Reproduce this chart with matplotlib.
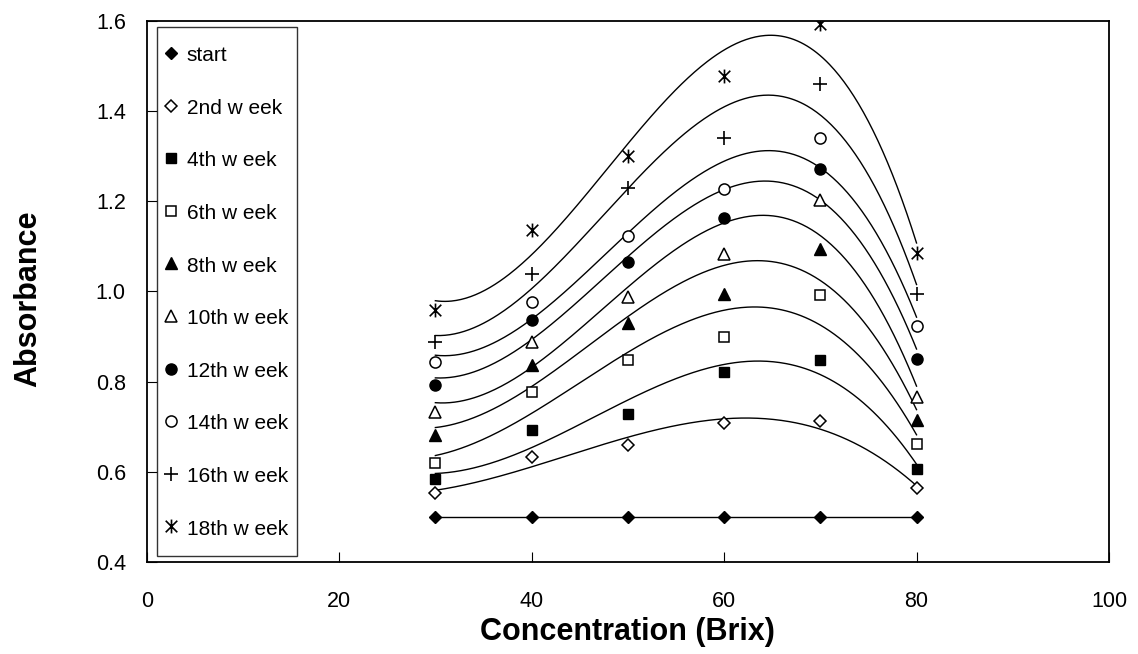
import numpy as np
import matplotlib
matplotlib.use("Agg")
import matplotlib.pyplot as plt
from matplotlib.lines import Line2D
from matplotlib.path import Path
from matplotlib.legend_handler import HandlerLine2D

plt.rcParams['font.family'] = ['Liberation Sans', 'DejaVu Sans']

# ---- data ----
conc = [30, 40, 50, 60, 70, 80]
series_labels = ["start", "2nd w eek", "4th w eek", "6th w eek", "8th w eek",
                 "10th w eek", "12th w eek", "14th w eek", "16th w eek", "18th w eek"]
start = [0.50, 0.50, 0.50, 0.50, 0.50, 0.50]
week2 = [0.552, 0.633, 0.659, 0.709, 0.712, 0.563]
week4 = [0.584, 0.692, 0.729, 0.822, 0.847, 0.606]
week6 = [0.619, 0.777, 0.847, 0.900, 0.993, 0.661]
week8 = [0.681, 0.836, 0.929, 0.995, 1.095, 0.716]
week10 = [0.733, 0.888, 0.988, 1.083, 1.204, 0.765]
week12 = [0.792, 0.937, 1.065, 1.163, 1.272, 0.851]
week14 = [0.844, 0.977, 1.122, 1.227, 1.340, 0.923]
week16 = [0.889, 1.039, 1.230, 1.340, 1.460, 0.995]
week18 = [0.960, 1.137, 1.301, 1.478, 1.594, 1.085]
all_series = [start, week2, week4, week6, week8, week10, week12, week14, week16, week18]
x_ticks = [0, 20, 40, 60, 80, 100]
y_ticks = [0.4, 0.6, 0.8, 1.0, 1.2, 1.4, 1.6]

# asterisk marker: X with vertical bar
ast = Path([(-1, -1), (1, 1), (-1, 1), (1, -1), (0, -1.2), (0, 1.2)],
           [Path.MOVETO, Path.LINETO, Path.MOVETO, Path.LINETO, Path.MOVETO, Path.LINETO])

styles = [
    dict(marker='D', ms=6.2, mfc='black', mec='black'),
    dict(marker='D', ms=6.2, mfc='white', mec='black', mew=1.1),
    dict(marker='s', ms=7.5, mfc='black', mec='black'),
    dict(marker='s', ms=7.5, mfc='white', mec='black', mew=1.1),
    dict(marker='^', ms=9, mfc='black', mec='black'),
    dict(marker='^', ms=9, mfc='white', mec='black', mew=1.1),
    dict(marker='o', ms=8, mfc='black', mec='black'),
    dict(marker='o', ms=8, mfc='white', mec='black', mew=1.1),
    dict(marker='+', ms=10, mfc='black', mec='black', mew=1.2),
    dict(marker=ast, ms=10, mfc='black', mec='black', mew=1.2),
]


class ShiftedHandler(HandlerLine2D):
    """Legend handler that lowers the marker to line up with the label text."""
    def create_artists(self, legend, orig_handle, xdescent, ydescent,
                       width, height, fontsize, trans):
        arts = super().create_artists(legend, orig_handle, xdescent, ydescent,
                                      width, height, fontsize, trans)
        for a in arts:
            a.set_ydata(np.asarray(a.get_ydata(), dtype=float) - 3.2)
        return arts


fig = plt.figure(figsize=(11.38, 6.54), dpi=100)
ax = fig.add_axes([0.1289, 0.1407, 0.9745 - 0.1289, 0.9679 - 0.1407])

xs = np.array(conc, dtype=float)
xfine = np.linspace(xs.min(), xs.max(), 300)
handles = []
for i, (vals, st) in enumerate(zip(all_series, styles)):
    ys = np.array(vals)
    if i == 0:
        ax.plot(xs, ys, color='black', lw=1.0, zorder=3, **st)
    else:
        coef = np.polyfit(xs, ys, 3)
        ax.plot(xfine, np.polyval(coef, xfine), color='black', lw=1.0, zorder=2)
        ax.plot(xs, ys, ls='none', zorder=3, **st)
    handles.append(Line2D([], [], ls='none', **st))

ax.set_xlim(0, 100)
ax.set_ylim(0.4, 1.6)
ax.set_xticks(x_ticks)
ax.set_yticks(y_ticks)
ax.set_yticklabels([f"{v:.1f}" for v in y_ticks])
ax.tick_params(axis='both', direction='in', length=7, width=0.8, labelsize=15.5,
               top=False, right=False)
ax.tick_params(axis='x', pad=21)
ax.tick_params(axis='y', pad=15)
for sp in ax.spines.values():
    sp.set_linewidth(1.3)
    sp.set_color('black')

ax.set_xlabel("Concentration (Brix)", fontsize=22, fontweight='bold')
ax.set_ylabel("Absorbance", fontsize=22, fontweight='bold')
ax.xaxis.set_label_coords(0.5, -0.102)
ax.yaxis.set_label_coords(-0.108, 0.486)

leg = ax.legend(handles, series_labels, loc='upper left',
                bbox_to_anchor=(0.0107, 0.989), borderaxespad=0,
                fontsize=15, frameon=True, fancybox=False,
                handleheight=2.4, labelspacing=0.72, borderpad=0.43,
                handlelength=0.48, handletextpad=0.51,
                handler_map={Line2D: ShiftedHandler()})
leg.get_frame().set_edgecolor('black')
leg.get_frame().set_linewidth(1.0)

fig.savefig("out.png", dpi=100)
